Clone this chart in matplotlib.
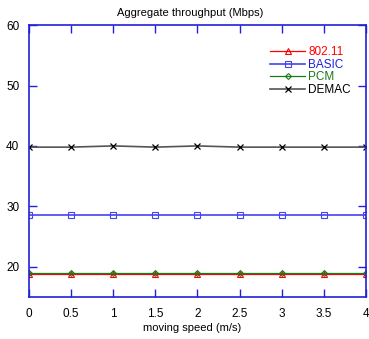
import matplotlib
matplotlib.use("Agg")
import matplotlib.pyplot as plt

speed = [0, 0.5, 1, 1.5, 2, 2.5, 3, 3.5, 4]
thr_80211 = [18.8, 18.8, 18.8, 18.8, 18.8, 18.8, 18.8, 18.8, 18.8]
thr_basic = [28.5, 28.5, 28.5, 28.5, 28.5, 28.5, 28.5, 28.5, 28.5]
thr_pcm = [18.9, 18.9, 18.9, 18.9, 18.9, 18.9, 18.9, 18.9, 18.9]
thr_demac = [39.8, 39.8, 40.0, 39.8, 40.0, 39.8, 39.8, 39.8, 39.8]
xticks = [0, 0.5, 1, 1.5, 2, 2.5, 3, 3.5, 4]
xticklabels = ["0", "0.5", "1", "1.5", "2", "2.5", "3", "3.5", "4"]
yticks = [20, 30, 40, 50, 60]

plt.rcParams['font.family'] = ['Liberation Sans', 'DejaVu Sans']
fig = plt.figure(figsize=(3.69, 3.39), dpi=100)
ax = fig.add_axes([0.0786, 0.124, 0.913, 0.802])

ax.plot(speed, thr_80211, color='red', lw=0.9, marker='^', ms=4, mfc='none', mew=0.8, label='802.11')
ax.plot(speed, thr_basic, color='#4444ee', lw=1.2, marker='s', ms=4.5, mfc='none', mew=0.8, label='BASIC')
ax.plot(speed, thr_pcm, color='#1a7a1a', lw=0.9, marker='D', ms=3, mfc='none', mew=0.8, label='PCM')
ax.plot(speed, thr_demac, color='#555555', lw=1.2, marker='x', ms=4.5, mew=0.9, mec='black', label='DEMAC')

ax.set_xlim(0, 4)
ax.set_ylim(15, 60)
ax.set_xticks(xticks)
ax.set_xticklabels(xticklabels)
ax.set_yticks(yticks)
for s in ax.spines.values():
    s.set_color('#2020dd')
    s.set_linewidth(1.2)
ax.tick_params(direction='in', length=6, width=1.0, color='#2020dd', top=True, right=True,
               labelsize=8.5)
ax.tick_params(axis='x', pad=8)
ax.tick_params(axis='y', pad=7)
fig.text(0.515, 0.962, 'Aggregate throughput (Mbps)', fontsize=8, ha='center', va='center')
fig.text(0.52, 0.033, 'moving speed (m/s)', fontsize=8, ha='center', va='center')

leg = ax.legend(loc='upper right', frameon=False, fontsize=8.5, handlelength=3.0,
                handletextpad=0.25, labelspacing=0.05, bbox_to_anchor=(0.97, 0.94), borderaxespad=0)
for t, c in zip(leg.get_texts(), ['red', '#2020dd', '#1a7a1a', 'black']):
    t.set_color(c)

fig.savefig('out.png', dpi=100)
